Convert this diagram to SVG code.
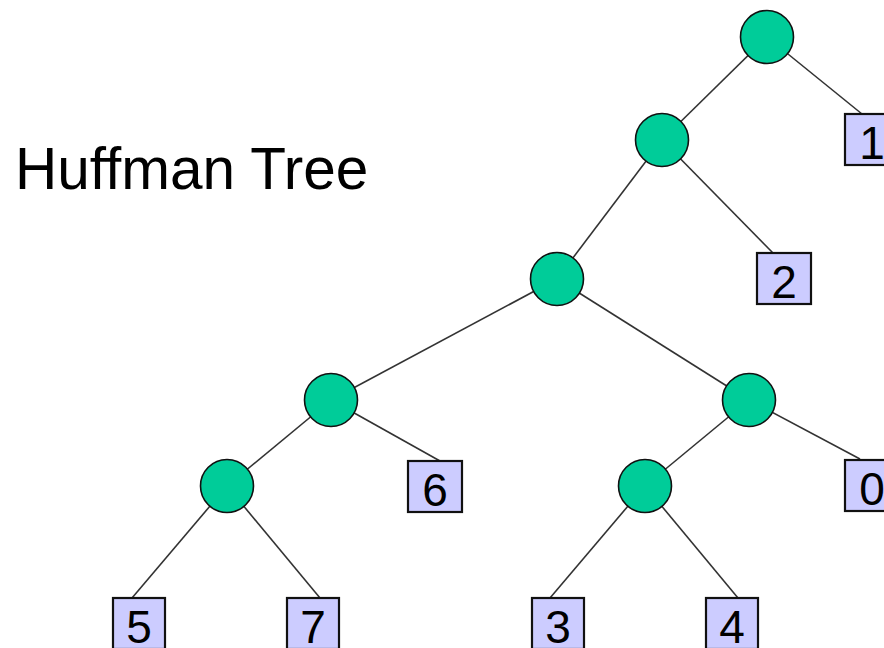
<svg xmlns="http://www.w3.org/2000/svg" width="884" height="648" viewBox="0 0 884 648">
<style>
.edge{stroke:#333;stroke-width:1.6;fill:none}
.inner{fill:#00CC99;stroke:#111;stroke-width:1.6}
.leaf{fill:#CCCCFF;stroke:#111;stroke-width:2.2}
.lbl{font-family:"Liberation Sans",Arial,sans-serif;font-size:46px;fill:#000;text-anchor:middle}
.title{font-family:"Liberation Sans",Arial,sans-serif;font-size:58.5px;fill:#000}
</style>
<rect width="884" height="648" fill="#fff"/>
<text class="title" x="15" y="189">Huffman Tree</text>
<g id="connectors">
<line class="edge" x1="767" y1="37" x2="662" y2="140"/>
<line class="edge" x1="767" y1="37" x2="862" y2="114"/>
<line class="edge" x1="662" y1="140" x2="557" y2="279"/>
<line class="edge" x1="662" y1="140" x2="773" y2="253"/>
<line class="edge" x1="557" y1="279" x2="331" y2="400"/>
<line class="edge" x1="557" y1="279" x2="749" y2="400"/>
<line class="edge" x1="331" y1="400" x2="227" y2="486"/>
<line class="edge" x1="331" y1="400" x2="440" y2="461"/>
<line class="edge" x1="749" y1="400" x2="645" y2="486"/>
<line class="edge" x1="749" y1="400" x2="860" y2="459"/>
<line class="edge" x1="227" y1="486" x2="132" y2="598"/>
<line class="edge" x1="227" y1="486" x2="320" y2="598"/>
<line class="edge" x1="645" y1="486" x2="550" y2="598"/>
<line class="edge" x1="645" y1="486" x2="738" y2="598"/>
</g>
<g id="n-root"><circle class="inner" cx="767" cy="37" r="26.5"/></g>
<g id="n-a"><circle class="inner" cx="662" cy="140" r="26.5"/></g>
<g id="n-b"><circle class="inner" cx="557" cy="279" r="26.5"/></g>
<g id="n-c"><circle class="inner" cx="331" cy="400" r="26.5"/></g>
<g id="n-d"><circle class="inner" cx="749" cy="400" r="26.5"/></g>
<g id="n-e"><circle class="inner" cx="227" cy="486" r="26.5"/></g>
<g id="n-f"><circle class="inner" cx="645" cy="486" r="26.5"/></g>
<g id="leaf-1"><rect class="leaf" x="845" y="114" width="54" height="51"/><text class="lbl" x="872" y="159">1</text></g>
<g id="leaf-2"><rect class="leaf" x="757" y="253" width="54" height="51"/><text class="lbl" x="784" y="298">2</text></g>
<g id="leaf-6"><rect class="leaf" x="408" y="461" width="54" height="51"/><text class="lbl" x="435" y="506">6</text></g>
<g id="leaf-0"><rect class="leaf" x="845" y="460" width="54" height="51"/><text class="lbl" x="872" y="505">0</text></g>
<g id="leaf-5"><rect class="leaf" x="113" y="598" width="52" height="51"/><text class="lbl" x="139" y="643">5</text></g>
<g id="leaf-7"><rect class="leaf" x="287" y="598" width="52" height="51"/><text class="lbl" x="313" y="643">7</text></g>
<g id="leaf-3"><rect class="leaf" x="532" y="598" width="52" height="51"/><text class="lbl" x="558" y="643">3</text></g>
<g id="leaf-4"><rect class="leaf" x="706" y="598" width="52" height="51"/><text class="lbl" x="732" y="643">4</text></g>
</svg>
